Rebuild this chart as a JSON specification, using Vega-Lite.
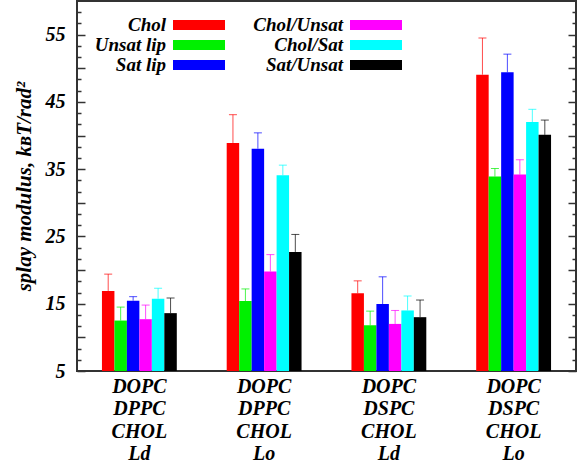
{
  "$schema": "https://vega.github.io/schema/vega-lite/v6.json",
  "width": 499,
  "height": 370,
  "autosize": "none",
  "padding": {"left": 77, "top": 1, "right": 2, "bottom": 100},
  "background": "white",
  "config": {"view": {"stroke": "#333333", "strokeWidth": 2}, "font": "Liberation Serif"},
  "data": {"values": [
    {"group": "DOPC|DPPC|CHOL|Ld", "series": "Chol", "value": 16.9, "err": 19.4},
    {"group": "DOPC|DPPC|CHOL|Ld", "series": "Unsat lip", "value": 12.5, "err": 14.5},
    {"group": "DOPC|DPPC|CHOL|Ld", "series": "Sat lip", "value": 15.45, "err": 16.05},
    {"group": "DOPC|DPPC|CHOL|Ld", "series": "Chol/Unsat", "value": 12.7, "err": 14.8},
    {"group": "DOPC|DPPC|CHOL|Ld", "series": "Chol/Sat", "value": 15.75, "err": 17.3},
    {"group": "DOPC|DPPC|CHOL|Ld", "series": "Sat/Unsat", "value": 13.6, "err": 15.85},
    {"group": "DOPC|DPPC|CHOL|Lo", "series": "Chol", "value": 38.9, "err": 43.1},
    {"group": "DOPC|DPPC|CHOL|Lo", "series": "Unsat lip", "value": 15.4, "err": 17.2},
    {"group": "DOPC|DPPC|CHOL|Lo", "series": "Sat lip", "value": 38.05, "err": 40.4},
    {"group": "DOPC|DPPC|CHOL|Lo", "series": "Chol/Unsat", "value": 19.8, "err": 22.3},
    {"group": "DOPC|DPPC|CHOL|Lo", "series": "Chol/Sat", "value": 34.1, "err": 35.6},
    {"group": "DOPC|DPPC|CHOL|Lo", "series": "Sat/Unsat", "value": 22.7, "err": 25.3},
    {"group": "DOPC|DSPC|CHOL|Ld", "series": "Chol", "value": 16.55, "err": 18.4},
    {"group": "DOPC|DSPC|CHOL|Ld", "series": "Unsat lip", "value": 11.8, "err": 13.9},
    {"group": "DOPC|DSPC|CHOL|Ld", "series": "Sat lip", "value": 14.95, "err": 19.0},
    {"group": "DOPC|DSPC|CHOL|Ld", "series": "Chol/Unsat", "value": 12.0, "err": 14.0},
    {"group": "DOPC|DSPC|CHOL|Ld", "series": "Chol/Sat", "value": 14.0, "err": 16.15},
    {"group": "DOPC|DSPC|CHOL|Ld", "series": "Sat/Unsat", "value": 13.0, "err": 15.55},
    {"group": "DOPC|DSPC|CHOL|Lo", "series": "Chol", "value": 49.05, "err": 54.5},
    {"group": "DOPC|DSPC|CHOL|Lo", "series": "Unsat lip", "value": 33.9, "err": 35.1},
    {"group": "DOPC|DSPC|CHOL|Lo", "series": "Sat lip", "value": 49.4, "err": 52.1},
    {"group": "DOPC|DSPC|CHOL|Lo", "series": "Chol/Unsat", "value": 34.2, "err": 36.4},
    {"group": "DOPC|DSPC|CHOL|Lo", "series": "Chol/Sat", "value": 42.0, "err": 43.9},
    {"group": "DOPC|DSPC|CHOL|Lo", "series": "Sat/Unsat", "value": 40.1, "err": 42.3}
  ]},
  "encoding": {
    "x": {
      "field": "group", "type": "nominal", "sort": null,
      "scale": {"paddingInner": 0.4, "paddingOuter": 0.2},
      "axis": {
        "title": null, "labelExpr": "split(datum.label, '|')", "labelAngle": 0,
        "labelFont": "Liberation Serif", "labelFontSize": 20, "labelFontStyle": "italic", "labelFontWeight": "bold",
        "labelColor": "black", "labelLineHeight": 22.5, "labelBaseline": "top", "labelPadding": 5,
        "ticks": false, "domain": false, "grid": false
      }
    },
    "xOffset": {
      "field": "series", "type": "nominal",
      "scale": {"domain": ["Chol", "Unsat lip", "Sat lip", "Chol/Unsat", "Chol/Sat", "Sat/Unsat"], "paddingInner": 0, "paddingOuter": 0}
    },
    "color": {
      "field": "series", "type": "nominal",
      "scale": {
        "domain": ["Chol", "Unsat lip", "Sat lip", "Chol/Unsat", "Chol/Sat", "Sat/Unsat"],
        "range": ["#ff0000", "#00f000", "#0000ff", "#ff00ff", "#00ffff", "#000000"]
      },
      "legend": {
        "orient": "none", "legendX": 0, "legendY": 14, "columns": 2, "title": null,
        "symbolType": "M-1,0M8.6,-0.5H13.8V0.5H8.6Z",
        "symbolSize": 400, "symbolStrokeWidth": 0, "symbolOpacity": 1,
        "labelAlign": "right", "labelOffset": 69, "labelLimit": 300,
        "labelFont": "Liberation Serif", "labelFontSize": 19, "labelFontStyle": "italic", "labelFontWeight": "bold", "labelColor": "black",
        "columnPadding": 28, "rowPadding": 0, "padding": 0
      }
    }
  },
  "layer": [
    {
      "mark": {"type": "bar"},
      "encoding": {
        "y": {
          "field": "value", "type": "quantitative",
          "scale": {"domain": [5, 60], "nice": false, "zero": false},
          "axis": {
            "orient": "left",
            "values": [5, 6.6667, 8.3333, 10, 11.6667, 13.3333, 15, 16.6667, 18.3333, 20, 21.6667, 23.3333, 25, 26.6667, 28.3333, 30, 31.6667, 33.3333, 35, 36.6667, 38.3333, 40, 41.6667, 43.3333, 45, 46.6667, 48.3333, 50, 51.6667, 53.3333, 55, 56.6667, 58.3333],
            "labelExpr": "abs(datum.value - round(datum.value)) < 0.01 && round(datum.value) % 10 == 5 ? format(datum.value, 'd') : ''",
            "tickSize": {"condition": {"test": "abs(datum.value/5 - round(datum.value/5)) < 0.01", "value": -8}, "value": -4},
            "tickColor": "#333333", "tickWidth": 1.5,
            "domain": false, "grid": false, "labelOverlap": false, "labelFlush": false,
            "labelFont": "Liberation Serif", "labelFontSize": 20, "labelFontStyle": "italic", "labelFontWeight": "bold", "labelColor": "black",
            "labelPadding": 20,
            "title": "splay modulus, kʙT/rad²",
            "titleFont": "Liberation Serif", "titleFontSize": 21, "titleFontStyle": "italic", "titleFontWeight": "bold", "titleColor": "black",
            "titlePadding": 11
          }
        },
        "y2": {"datum": 5}
      }
    },
    {
      "mark": {"type": "rule", "strokeWidth": 1, "opacity": 0.7},
      "encoding": {
        "y": {
          "field": "value", "type": "quantitative",
          "axis": {
            "orient": "right",
            "values": [5, 6.6667, 8.3333, 10, 11.6667, 13.3333, 15, 16.6667, 18.3333, 20, 21.6667, 23.3333, 25, 26.6667, 28.3333, 30, 31.6667, 33.3333, 35, 36.6667, 38.3333, 40, 41.6667, 43.3333, 45, 46.6667, 48.3333, 50, 51.6667, 53.3333, 55, 56.6667, 58.3333],
            "labels": false, "title": null,
            "tickSize": {"condition": {"test": "abs(datum.value/5 - round(datum.value/5)) < 0.01", "value": -8}, "value": -4},
            "tickColor": "#333333", "tickWidth": 1.5,
            "domain": false, "grid": false
          }
        },
        "y2": {"field": "err"}
      }
    },
    {
      "mark": {"type": "tick", "size": 8, "thickness": 1, "opacity": 0.7},
      "encoding": {
        "y": {"field": "err", "type": "quantitative", "axis": null}
      }
    }
  ],
  "resolve": {"axis": {"y": "independent"}}
}
